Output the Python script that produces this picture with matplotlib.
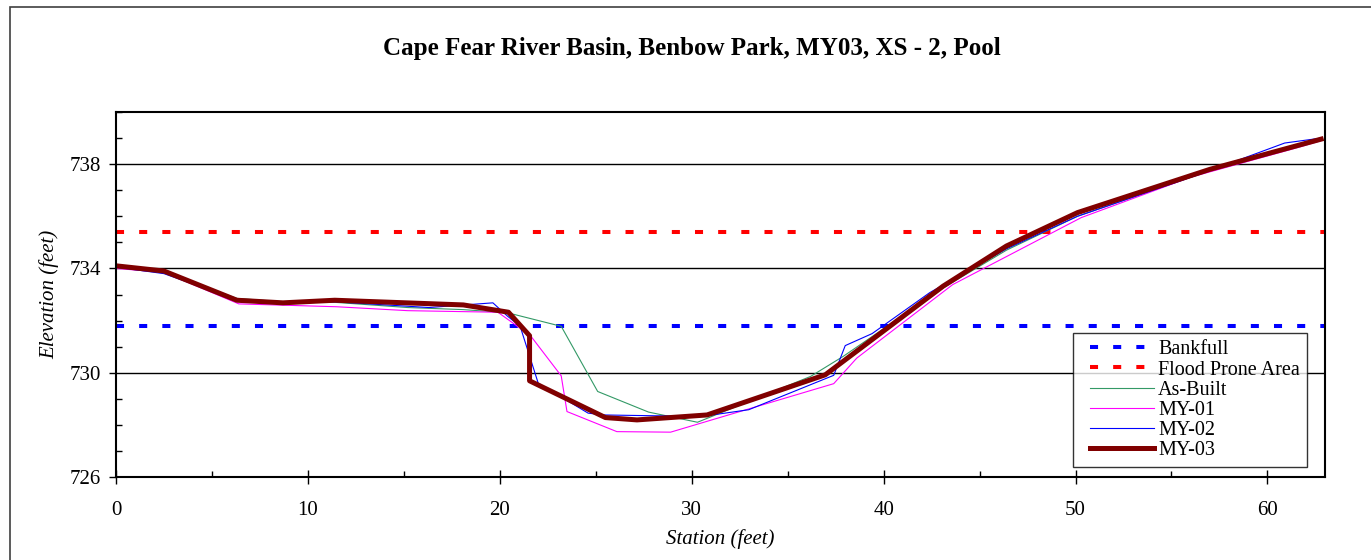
import matplotlib.pyplot as plt
from matplotlib.patches import Rectangle
from matplotlib.lines import Line2D
from matplotlib.legend_handler import HandlerLine2D
from matplotlib.ticker import MultipleLocator

plt.rcParams['font.family'] = ['Liberation Serif', 'DejaVu Serif']

bankfull = 731.8
flood_prone = 735.38

asbuilt_x = [0, 2.5, 6.3, 8.7, 11.4, 15.2, 18.1, 20.4, 23.2, 25.1, 27.75, 30.3, 36.2, 37.9, 43.1, 46.4, 50.1, 57.0, 62.8]
asbuilt_y = [734.05, 733.85, 732.85, 732.72, 732.7, 732.5, 732.42, 732.3, 731.78, 729.28, 728.49, 728.1, 729.86, 730.63, 733.25, 734.7, 736.0, 737.75, 738.95]

my01_x = [0, 2.5, 6.4, 11.5, 15.2, 19.9, 21.6, 23.2, 23.5, 26.1, 28.9, 37.4, 38.6, 43.6, 50.3, 56.0, 61.6, 62.8]
my01_y = [734.0, 733.85, 732.64, 732.53, 732.38, 732.32, 731.42, 729.88, 728.51, 727.74, 727.72, 729.58, 730.56, 733.38, 735.95, 737.5, 738.64, 738.9]

my02_x = [0, 2.5, 6.3, 8.7, 11.4, 16.3, 19.64, 20.4, 21.06, 22.0, 24.6, 25.4, 30.5, 32.97, 37.4, 38.0, 39.4, 42.4, 46.4, 50.1, 57.0, 60.9, 62.8]
my02_y = [734.05, 733.8, 732.8, 732.7, 732.72, 732.5, 732.68, 732.17, 731.78, 729.6, 728.45, 728.38, 728.32, 728.58, 729.9, 731.04, 731.5, 733.07, 734.75, 736.0, 737.75, 738.81, 739.0]

my03_x = [0, 2.5, 6.3, 8.7, 11.4, 18.1, 20.45, 21.55, 21.55, 25.5, 27.15, 30.8, 36.96, 43.1, 46.4, 50.1, 57.0, 62.8]
my03_y = [734.1, 733.9, 732.78, 732.68, 732.78, 732.6, 732.32, 731.42, 729.69, 728.28, 728.19, 728.38, 729.92, 733.32, 734.86, 736.14, 737.8, 738.96]

fig = plt.figure(figsize=(13.71, 5.60), dpi=100)
ax = fig.add_axes([116 / 1371, 1 - 477 / 560, (1325 - 116) / 1371, (477 - 112) / 560])

# outer chart frame, runs off the right and bottom edges
fig.patches.append(Rectangle((10 / 1371, -0.1), 1.1, 1 - 7 / 560 + 0.1, transform=fig.transFigure,
                             fill=False, edgecolor='#404040', lw=1.2))

ax.axhline(bankfull, color='#0000FF', lw=2.9, dashes=(2, 3.75), label='Bankfull')
ax.axhline(flood_prone, color='#FF0000', lw=2.9, dashes=(2, 3.75), label='Flood Prone Area')
ax.plot(asbuilt_x, asbuilt_y, color='#339966', lw=0.8, label='As-Built')
ax.plot(my01_x, my01_y, color='#FF00FF', lw=0.8, label='MY-01')
ax.plot(my02_x, my02_y, color='#0000FF', lw=0.8, label='MY-02')
ax.plot(my03_x, my03_y, color='#800000', lw=3.6, label='MY-03')

ax.set_xlim(0, 63)
ax.set_ylim(726, 740)
ax.xaxis.set_major_locator(MultipleLocator(10))
ax.xaxis.set_minor_locator(MultipleLocator(5))
ax.yaxis.set_minor_locator(MultipleLocator(1))
ax.set_yticks([726, 730, 734, 738])
ax.grid(axis='y', which='major', color='black', lw=1)
ax.set_axisbelow(True)
ax.tick_params(which='major', direction='inout', length=10, width=1, labelsize=15, pad=12)
ax.tick_params(which='minor', direction='in', length=4, width=1)
ax.tick_params(axis='y', which='major', direction='out', length=5, pad=6)
for s in ax.spines.values():
    s.set_linewidth(1.5)

ax.set_ylabel('Elevation (feet)', fontstyle='italic', fontsize=15, labelpad=7)
ax.set_xlabel('Station (feet)', fontstyle='italic', fontsize=15, labelpad=7)
fig.text(692 / 1371, 1 - 48 / 560, 'Cape Fear River Basin, Benbow Park, MY03, XS - 2, Pool',
         ha='center', va='center', fontsize=18, fontweight='bold')

leg = ax.legend(loc='lower right', bbox_to_anchor=(1307 / 1371, 1 - 467 / 560), bbox_transform=fig.transFigure,
                fontsize=14.5, frameon=True, fancybox=False, handlelength=3.7, labelspacing=0.05,
                borderpad=0.35, handletextpad=0.2, borderaxespad=0,
                handler_map={Line2D: HandlerLine2D(xpad=0.5)})
leg.get_frame().set_edgecolor('black')
leg.get_frame().set_linewidth(1)

fig.savefig('out.png', dpi=100)
